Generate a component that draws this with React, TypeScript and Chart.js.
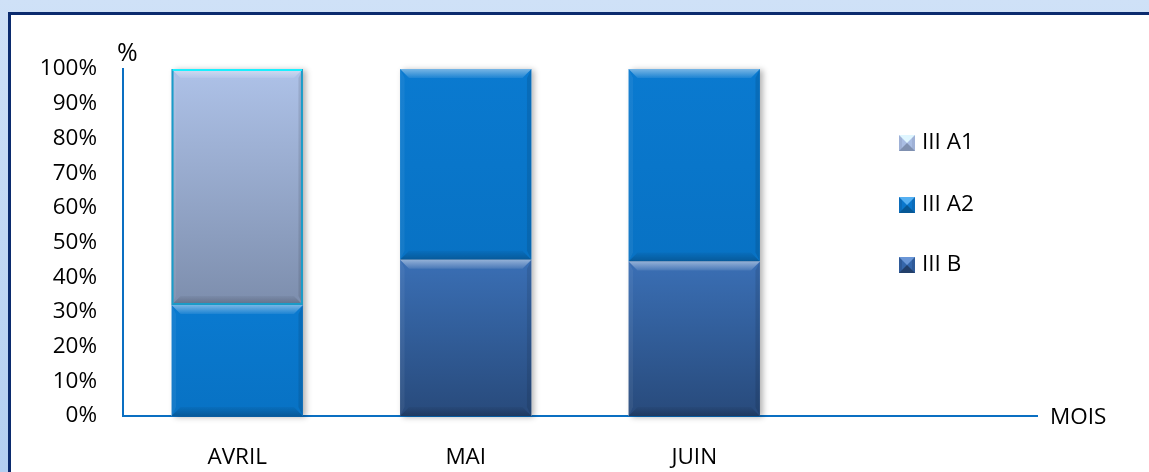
import React, { useEffect, useRef } from "react";
import { Chart, registerables } from "chart.js";

Chart.register(...registerables);

const categories = ["AVRIL", "MAI", "JUIN", ""];
const seriesB = [null, 45, 44.5, null];
const seriesA2 = [32, 55, 55.5, null];
const seriesA1 = [68, null, null, null];
const yTicks = [0, 10, 20, 30, 40, 50, 60, 70, 80, 90, 100];
const axisTitleY = "%";
const axisTitleX = "MOIS";

const FONT = '"Open Sans", "Noto Sans", sans-serif';
const FS = 22.5;

type Stops = [string, string];

function gradFill(stops: Stops) {
  return (ctx: any) => {
    const chart = ctx.chart;
    const { chartArea, scales } = chart;
    if (!chartArea || ctx.type !== "data" || !scales.y) return stops[0];
    const di = ctx.datasetIndex;
    const i = ctx.dataIndex;
    let base = 0;
    for (let k = 0; k < di; k++) base += (chart.data.datasets[k].data[i] as number) ?? 0;
    const v = (chart.data.datasets[di].data[i] as number) ?? 0;
    const y0 = scales.y.getPixelForValue(base + v);
    const y1 = scales.y.getPixelForValue(base);
    if (!isFinite(y0) || !isFinite(y1) || Math.abs(y1 - y0) < 1) return stops[0];
    const g = chart.ctx.createLinearGradient(0, y0, 0, y1);
    g.addColorStop(0, stops[0]);
    g.addColorStop(1, stops[1]);
    return g;
  };
}

const legendItems = [
  { label: "III A1", top: "#dff6ff", mid: "#a9bde3", bot: "#7f90b0", side: "#9fb1d6" },
  { label: "III A2", top: "#55b0f2", mid: "#0a77cc", bot: "#065896", side: "#0b6cba" },
  { label: "III B", top: "#6a96d6", mid: "#3566aa", bot: "#223f6a", side: "#2f5a98" },
];

const framePlugin = {
  id: "frame",
  beforeDraw(chart: any) {
    const ctx = chart.ctx;
    const W = chart.width, H = chart.height;
    ctx.save();
    const g = ctx.createLinearGradient(0, 0, 0, H);
    g.addColorStop(0, "#cfe1f7");
    g.addColorStop(1, "#b3cff1");
    ctx.fillStyle = g;
    ctx.fillRect(0, 0, W, H);
    ctx.fillStyle = "#0b2b6e";
    ctx.fillRect(8, 12, W - 8, 3);
    ctx.fillRect(8, 12, 3, H - 12);
    ctx.fillStyle = "#ffffff";
    ctx.fillRect(11, 15, W - 11, H - 15);
    ctx.restore();
  },
};

const shadowPlugin = {
  id: "stackShadow",
  beforeDatasetsDraw(chart: any) {
    const ctx = chart.ctx;
    const n = chart.data.labels.length;
    ctx.save();
    for (let i = 0; i < n; i++) {
      let top = Infinity, bottom = -Infinity, left = 0, right = 0, found = false;
      chart.data.datasets.forEach((_d: any, di: number) => {
        const el = chart.getDatasetMeta(di).data[i];
        if (!el) return;
        const p = el.getProps(["x", "y", "base", "width"], true);
        if (!isFinite(p.y) || Math.abs(p.base - p.y) < 1) return;
        found = true;
        top = Math.min(top, p.y, p.base);
        bottom = Math.max(bottom, p.y, p.base);
        left = p.x - p.width / 2;
        right = p.x + p.width / 2;
      });
      if (!found) continue;
      ctx.shadowColor = "rgba(0,0,0,0.3)";
      ctx.shadowBlur = 6;
      ctx.shadowOffsetX = 3;
      ctx.shadowOffsetY = 1;
      ctx.fillStyle = "rgba(255,255,255,1)";
      ctx.fillRect(left, top, right - left, bottom - top);
    }
    ctx.restore();
  },
};

const bevelPlugin = {
  id: "bevel",
  afterDatasetsDraw(chart: any) {
    const ctx = chart.ctx;
    chart.data.datasets.forEach((_d: any, di: number) => {
      const meta = chart.getDatasetMeta(di);
      meta.data.forEach((el: any) => {
        const p = el.getProps(["x", "y", "base", "width"], true);
        if (!isFinite(p.y) || Math.abs(p.base - p.y) < 1) return;
        const l = p.x - p.width / 2;
        const r = p.x + p.width / 2;
        const t = Math.min(p.y, p.base);
        const b = Math.max(p.y, p.base);
        const s = Math.min(9, (b - t) / 2);
        ctx.save();
        let g = ctx.createLinearGradient(0, t, 0, t + s);
        g.addColorStop(0, "rgba(255,255,255,0.45)");
        g.addColorStop(1, "rgba(255,255,255,0.08)");
        ctx.fillStyle = g;
        ctx.beginPath();
        ctx.moveTo(l, t);
        ctx.lineTo(r, t);
        ctx.lineTo(r - s, t + s);
        ctx.lineTo(l + s, t + s);
        ctx.closePath();
        ctx.fill();
        g = ctx.createLinearGradient(0, b - s, 0, b);
        g.addColorStop(0, "rgba(0,0,0,0.04)");
        g.addColorStop(1, "rgba(0,0,0,0.22)");
        ctx.fillStyle = g;
        ctx.beginPath();
        ctx.moveTo(l, b);
        ctx.lineTo(r, b);
        ctx.lineTo(r - s, b - s);
        ctx.lineTo(l + s, b - s);
        ctx.closePath();
        ctx.fill();
        ctx.fillStyle = "rgba(0,0,0,0.10)";
        ctx.beginPath();
        ctx.moveTo(r, t);
        ctx.lineTo(r, b);
        ctx.lineTo(r - s * 0.5, b - s);
        ctx.lineTo(r - s * 0.5, t + s);
        ctx.closePath();
        ctx.fill();
        ctx.fillStyle = "rgba(255,255,255,0.06)";
        ctx.beginPath();
        ctx.moveTo(l, t);
        ctx.lineTo(l, b);
        ctx.lineTo(l + s * 0.5, b - s);
        ctx.lineTo(l + s * 0.5, t + s);
        ctx.closePath();
        ctx.fill();
        if (di === 2) {
          ctx.strokeStyle = "#1a9cc8";
          ctx.lineWidth = 2;
          ctx.strokeRect(l + 1, t + 1, r - l - 2, b - t - 2);
          ctx.strokeStyle = "#19f0ff";
          ctx.beginPath();
          ctx.moveTo(l + 1, t + 1);
          ctx.lineTo(r - 1, t + 1);
          ctx.stroke();
        }
        ctx.restore();
      });
    });
  },
};

const labelsPlugin = {
  id: "extraLabels",
  afterDraw(chart: any) {
    const ctx = chart.ctx;
    const { chartArea } = chart;
    ctx.save();
    ctx.fillStyle = "#000";
    ctx.textBaseline = "middle";
    ctx.textAlign = "left";
    ctx.font = `25px ${FONT}`;
    ctx.fillText(axisTitleY, chartArea.left - 6, chartArea.top - 15);
    ctx.font = `${FS}px ${FONT}`;
    ctx.fillText(axisTitleX, chartArea.right + 13, chartArea.bottom + 2);
    const boxX = 899;
    const ys = [143, 205, 265];
    legendItems.forEach((it, k) => {
      const cy = ys[k];
      const x0 = boxX, y0 = cy - 8, w = 16, h = 16;
      const cx = x0 + w / 2, cyy = y0 + h / 2;
      ctx.fillStyle = it.side;
      ctx.fillRect(x0, y0, w, h);
      ctx.fillStyle = it.mid;
      ctx.fillRect(x0 + 3, y0 + 3, w - 6, h - 6);
      ctx.fillStyle = it.top;
      ctx.beginPath();
      ctx.moveTo(x0, y0);
      ctx.lineTo(x0 + w, y0);
      ctx.lineTo(cx, cyy);
      ctx.closePath();
      ctx.fill();
      ctx.fillStyle = it.bot;
      ctx.beginPath();
      ctx.moveTo(x0, y0 + h);
      ctx.lineTo(x0 + w, y0 + h);
      ctx.lineTo(cx, cyy);
      ctx.closePath();
      ctx.fill();
      ctx.fillStyle = "#000";
      ctx.fillText(it.label, x0 + w + 7, cy);
    });
    ctx.restore();
  },
};

export default function App() {
  const ref = useRef<HTMLCanvasElement | null>(null);

  useEffect(() => {
    document.body.style.margin = "0";
    document.body.style.overflow = "hidden";
    if (!ref.current) return;
    Chart.defaults.font.family = FONT;
    Chart.defaults.font.size = FS;
    Chart.defaults.color = "#000";
    const chart = new Chart(ref.current, {
      type: "bar",
      data: {
        labels: categories,
        datasets: [
          {
            label: "III B",
            data: seriesB,
            backgroundColor: gradFill(["#3a6fb5", "#284a7b"]),
            borderWidth: 0,
          },
          {
            label: "III A2",
            data: seriesA2,
            backgroundColor: gradFill(["#0a7ad0", "#0872c4"]),
            borderWidth: 0,
          },
          {
            label: "III A1",
            data: seriesA1,
            backgroundColor: gradFill(["#aec2e8", "#7d8ead"]),
            borderWidth: 0,
          },
        ] as any,
      },
      options: {
        animation: false,
        responsive: false,
        maintainAspectRatio: false,
        layout: { padding: { top: 69, right: 112, bottom: 0, left: 0 } },
        datasets: {
          bar: { categoryPercentage: 1, barPercentage: 0.575 },
        } as any,
        plugins: {
          legend: { display: false },
          tooltip: { enabled: false },
          title: { display: false },
        },
        scales: {
          x: {
            stacked: true,
            offset: true,
            grid: { display: false, drawTicks: false },
            border: { display: true, color: "#0a6fc2", width: 2 },
            ticks: { padding: 28, color: "#000", font: { size: FS, family: FONT } },
            afterFit(scale: any) {
              scale.height = 56;
            },
          },
          y: {
            stacked: true,
            min: 0,
            max: 100,
            grid: { display: false, drawTicks: false },
            border: { display: true, color: "#0a6fc2", width: 2 },
            afterBuildTicks(scale: any) {
              scale.ticks = yTicks.map((v) => ({ value: v }));
            },
            ticks: {
              autoSkip: false,
              padding: 26,
              color: "#000",
              font: { size: FS, family: FONT },
              callback: (v: any) => `${v}%`,
            },
            afterFit(scale: any) {
              scale.width = 123;
            },
          },
        },
      },
      plugins: [framePlugin, shadowPlugin, bevelPlugin, labelsPlugin],
    });
    return () => chart.destroy();
  }, []);

  return (
    <div style={{ position: "relative", width: 1149, height: 472, overflow: "hidden" }}>
      <canvas
        ref={ref}
        width={1149}
        height={472}
        style={{ display: "block", width: 1149, height: 472 }}
      />
    </div>
  );
}
